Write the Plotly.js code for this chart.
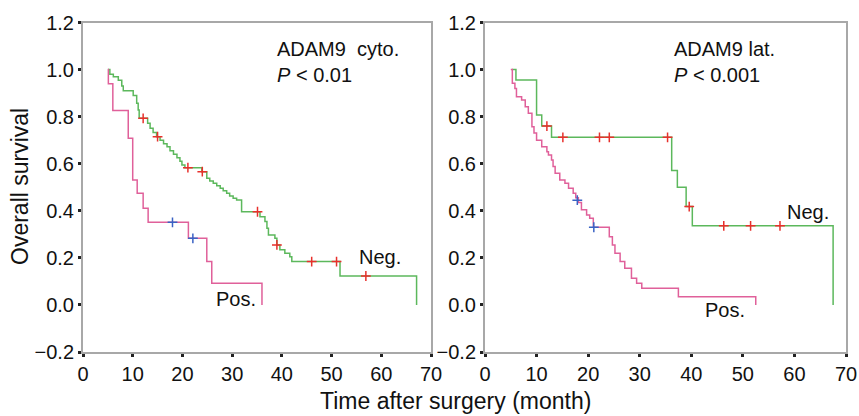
<!DOCTYPE html>
<html>
<head>
<meta charset="utf-8">
<script src="https://cdn.plot.ly/plotly-3.0.1.min.js"></script>
<style>html,body{margin:0;padding:0;background:#fff;}#chart{width:859px;height:416px;}</style>
</head>
<body>
<div id="chart"></div>
<script>
// Left panel: ADAM9 cytoplasmic
const cytoNegT = [5.0, 5.4, 6.1, 7.1, 7.8, 8.1, 10.1, 10.8, 11.1, 11.3, 13.0, 13.5, 14.1, 14.8, 15.5, 16.2, 16.9, 17.5, 18.2, 18.9, 19.5, 19.9, 20.5, 23.9, 24.9, 25.5, 26.2, 26.9, 27.6, 28.2, 28.9, 29.5, 30.2, 30.9, 31.9, 35.6, 36.6, 37.0, 37.3, 38.6, 39.0, 39.6, 40.6, 41.6, 42.0, 51.7, 67.1];
const cytoNegS = [1.0, 0.98, 0.97, 0.955, 0.93, 0.91, 0.89, 0.857, 0.828, 0.793, 0.772, 0.751, 0.733, 0.715, 0.70, 0.685, 0.672, 0.655, 0.64, 0.625, 0.61, 0.595, 0.583, 0.566, 0.538, 0.527, 0.517, 0.506, 0.496, 0.485, 0.474, 0.463, 0.453, 0.446, 0.396, 0.375, 0.354, 0.326, 0.297, 0.283, 0.255, 0.234, 0.22, 0.205, 0.184, 0.123, 0.0];
const cytoNegCensT = [12.1, 15.0, 21.1, 24.0, 35.1, 39.0, 46.0, 51.0, 56.9];
const cytoNegCensS = [0.793, 0.715, 0.583, 0.566, 0.396, 0.255, 0.184, 0.184, 0.123];
const cytoPosT = [5.0, 5.1, 6.0, 9.1, 10.0, 10.9, 12.1, 13.1, 21.2, 24.9, 25.9, 36.0];
const cytoPosS = [1.0, 0.94, 0.826, 0.708, 0.531, 0.474, 0.411, 0.351, 0.283, 0.184, 0.092, 0.0];
const cytoPosCensT = [18.0, 22.1];
const cytoPosCensS = [0.351, 0.283];

// Right panel: ADAM9 lateral
const latNegT = [5.2, 6.0, 10.0, 11.0, 12.9, 36.2, 37.3, 39.0, 40.2, 67.5];
const latNegS = [1.0, 0.956, 0.807, 0.76, 0.712, 0.571, 0.5, 0.418, 0.336, 0.0];
const latNegCensT = [12.0, 15.1, 22.2, 24.1, 35.4, 39.6, 46.3, 51.5, 57.2];
const latNegCensS = [0.76, 0.712, 0.712, 0.712, 0.712, 0.418, 0.336, 0.336, 0.336];
const latPosT = [5.0, 5.3, 5.8, 6.1, 7.1, 7.8, 8.4, 9.1, 9.5, 10.0, 11.0, 12.0, 12.3, 12.9, 13.2, 13.6, 14.5, 15.5, 16.2, 17.1, 17.6, 18.1, 18.7, 19.7, 20.3, 21.0, 24.1, 24.7, 25.2, 26.2, 27.1, 28.4, 29.4, 30.4, 37.5, 52.5];
const latPosS = [1.0, 0.942, 0.92, 0.885, 0.871, 0.842, 0.814, 0.757, 0.73, 0.70, 0.672, 0.651, 0.637, 0.616, 0.588, 0.559, 0.531, 0.517, 0.496, 0.474, 0.455, 0.435, 0.404, 0.382, 0.368, 0.33, 0.29, 0.255, 0.22, 0.184, 0.156, 0.113, 0.092, 0.071, 0.035, 0.0];
const latPosCensT = [17.9, 21.1];
const latPosCensS = [0.445, 0.33];

const xTicks = [0, 10, 20, 30, 40, 50, 60, 70];
const yTicks = [-0.2, 0.0, 0.2, 0.4, 0.6, 0.8, 1.0, 1.2];

const GREEN = '#5cb85c', PINK = '#e0609a', RED = '#e8302c', BLUE = '#3a62c4';

function curve(x, y, color, xa, ya) {
  return {x: x, y: y, type: 'scatter', mode: 'lines', line: {shape: 'hv', color: color, width: 1.5},
          xaxis: xa, yaxis: ya, hoverinfo: 'skip', showlegend: false};
}
function cens(x, y, color, xa, ya) {
  return {x: x, y: y, type: 'scatter', mode: 'markers',
          marker: {symbol: 'cross-thin', size: 7, line: {color: color, width: 1.5}, color: color},
          xaxis: xa, yaxis: ya, hoverinfo: 'skip', showlegend: false};
}

const data = [
  curve(cytoNegT, cytoNegS, GREEN, 'x', 'y'),
  curve(cytoPosT, cytoPosS, PINK, 'x', 'y'),
  cens(cytoNegCensT, cytoNegCensS, RED, 'x', 'y'),
  cens(cytoPosCensT, cytoPosCensS, BLUE, 'x', 'y'),
  curve(latNegT, latNegS, GREEN, 'x2', 'y2'),
  curve(latPosT, latPosS, PINK, 'x2', 'y2'),
  cens(latNegCensT, latNegCensS, RED, 'x2', 'y2'),
  cens(latPosCensT, latPosCensS, BLUE, 'x2', 'y2')
];

const FONT = 'Liberation Sans, Arial, Helvetica, sans-serif';
const W = 859, H = 416;
const yDom = [1 - 352 / H, 1 - 22.5 / H];

function xax(dom, anchor) {
  return {domain: dom, anchor: anchor, range: [0, 70], tickvals: xTicks, ticktext: xTicks.map(String),
          showgrid: false, zeroline: false, showline: true, mirror: true, linecolor: '#a8a8a8', linewidth: 2,
          ticks: 'outside', ticklen: 3, tickwidth: 3, tickcolor: '#222',
          tickfont: {family: FONT, size: 20, color: '#111'}, fixedrange: true};
}
function yax(anchor) {
  return {domain: yDom, anchor: anchor, range: [-0.2, 1.2], tickvals: yTicks,
          ticktext: yTicks.map(v => (v < 0 ? '\u2212' : '') + Math.abs(v).toFixed(1)),
          showgrid: false, zeroline: false, showline: true, mirror: true, linecolor: '#a8a8a8', linewidth: 2,
          ticks: 'outside', ticklen: 3, tickwidth: 3, tickcolor: '#222',
          tickfont: {family: FONT, size: 20, color: '#111'}, fixedrange: true};
}

function txt(text, x, y, xa, ya, anchor) {
  return {text: text, x: x, y: y, xref: xa, yref: ya, showarrow: false, xanchor: anchor || 'center',
          yanchor: 'middle', font: {family: FONT, size: 20, color: '#111'}};
}

const layout = {
  width: W, height: H, margin: {l: 0, r: 0, t: 0, b: 0},
  paper_bgcolor: '#fff', plot_bgcolor: '#fff', showlegend: false,
  xaxis: xax([83 / W, 431 / W], 'y'),
  yaxis: yax('x'),
  xaxis2: xax([485 / W, 846 / W], 'y2'),
  yaxis2: yax('x2'),
  annotations: [
    txt('ADAM9&nbsp;&nbsp;cyto.', 38.6, 1.087, 'x', 'y', 'left'),
    txt('<i>P</i> &lt; 0.01', 38.6, 0.977, 'x', 'y', 'left'),
    txt('Neg.', 59.8, 0.204, 'x', 'y'),
    txt('Pos.', 30.8, 0.025, 'x', 'y'),
    txt('ADAM9 lat.', 36.3, 1.087, 'x2', 'y2', 'left'),
    txt('<i>P</i> &lt; 0.001', 36.3, 0.977, 'x2', 'y2', 'left'),
    txt('Neg.', 62.6, 0.395, 'x2', 'y2'),
    txt('Pos.', 46.5, -0.021, 'x2', 'y2'),
    {text: 'Overall survival', x: 20 / W, y: 1 - 187 / H, xref: 'paper', yref: 'paper', showarrow: false,
     textangle: -90, xanchor: 'center', yanchor: 'middle', font: {family: FONT, size: 23, color: '#111'}},
    {text: 'Time after surgery (month)', x: 455 / W, y: 1 - 401 / H, xref: 'paper', yref: 'paper', showarrow: false,
     xanchor: 'center', yanchor: 'middle', font: {family: FONT, size: 23, color: '#111'}}
  ]
};

Plotly.newPlot('chart', data, layout, {staticPlot: true, displayModeBar: false});
</script>
</body>
</html>
